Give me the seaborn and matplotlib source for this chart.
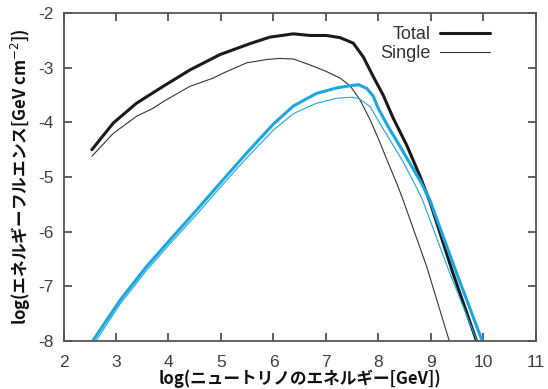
import numpy as np
import pandas as pd
import matplotlib
matplotlib.use("Agg")
import matplotlib.pyplot as plt
import seaborn as sns

# Data (log E [GeV], log fluence)
total_black_x = [2.54, 2.95, 3.39, 3.90, 4.41, 4.98, 5.55, 5.93, 6.38, 6.70, 7.01, 7.27, 7.52, 7.71, 7.90, 8.09, 8.28, 8.54, 8.79, 8.98, 9.42, 9.87]
total_black_y = [-4.50, -4.01, -3.65, -3.34, -3.04, -2.76, -2.56, -2.44, -2.38, -2.41, -2.41, -2.45, -2.55, -2.80, -3.16, -3.50, -3.92, -4.42, -4.98, -5.45, -6.76, -8.00]

single_black_x = [2.54, 2.95, 3.39, 3.71, 3.90, 4.41, 4.85, 5.04, 5.49, 5.87, 6.12, 6.38, 6.70, 7.01, 7.27, 7.46, 7.65, 7.84, 8.00, 8.16, 8.35, 8.47, 8.92, 9.35]
single_black_y = [-4.62, -4.20, -3.89, -3.74, -3.62, -3.34, -3.19, -3.10, -2.91, -2.85, -2.83, -2.84, -2.95, -3.07, -3.19, -3.33, -3.59, -3.95, -4.30, -4.68, -5.12, -5.42, -6.64, -8.00]

total_blue_x = [2.57, 3.08, 3.58, 4.03, 4.54, 5.04, 5.50, 6.00, 6.38, 6.82, 7.20, 7.46, 7.62, 7.78, 7.90, 8.00, 8.18, 8.40, 8.60, 8.80, 8.98, 9.49, 9.97]
total_blue_y = [-7.98, -7.25, -6.64, -6.15, -5.60, -5.05, -4.55, -4.03, -3.70, -3.47, -3.37, -3.33, -3.31, -3.38, -3.52, -3.75, -4.07, -4.42, -4.75, -5.08, -5.42, -6.76, -7.98]

single_blue_x = [2.63, 3.08, 3.58, 4.03, 4.54, 5.04, 5.50, 6.00, 6.38, 6.82, 7.20, 7.46, 7.62, 7.84, 8.06, 8.47, 8.73, 8.84, 9.36, 9.87]
single_blue_y = [-7.98, -7.32, -6.71, -6.22, -5.68, -5.13, -4.64, -4.14, -3.84, -3.65, -3.56, -3.54, -3.56, -3.71, -4.07, -4.72, -5.20, -5.42, -6.76, -7.98]

x_ticks = [2, 3, 4, 5, 6, 7, 8, 9, 10, 11]
y_ticks = [-2, -3, -4, -5, -6, -7, -8]

sns.set_style("ticks")
plt.rcParams['font.family'] = ['Liberation Sans', 'DejaVu Sans']

fig = plt.figure(figsize=(5.48, 3.89), dpi=100)
ax = fig.add_axes([0.1159, 0.1234, 0.862, 0.843])

black = "#1a1a1a"
blue = "#1ba6e0"

def draw(xs, ys, color, lw, label):
    df = pd.DataFrame({"x": xs, "y": ys})
    sns.lineplot(data=df, x="x", y="y", ax=ax, color=color, linewidth=lw,
                 label=label, sort=False, estimator=None)

draw(total_black_x, total_black_y, black, 2.2, "Total")
draw(single_black_x, single_black_y, "#333333", 0.8, "Single")
draw(total_blue_x, total_blue_y, blue, 2.2, "_nolegend_")
draw(single_blue_x, single_blue_y, blue, 0.8, "_nolegend_")

ax.set_xlim(2, 11)
ax.set_ylim(-8, -2)
ax.set_xticks(x_ticks)
ax.set_yticks(y_ticks)
ax.set_xticklabels([str(v) for v in x_ticks])
ax.set_yticklabels([str(v) for v in y_ticks])
ax.tick_params(direction="in", length=6, width=1.2, colors="#444444",
               labelcolor="#404040", labelsize=12.5, top=True, right=True)
ax.tick_params(axis="x", pad=10)
ax.tick_params(axis="y", pad=7)
for s in ax.spines.values():
    s.set_visible(True)
    s.set_color("#555555")
    s.set_linewidth(1.3)

jp = ['Noto Sans CJK JP', 'DejaVu Sans']
ax.set_xlabel("log(ニュートリノのエネルギー[GeV])", family=jp, fontweight="bold",
              fontsize=12, labelpad=0, color="#111111")
ax.set_ylabel("log(エネルギーフルエンス[GeV cm$^{-2}$])", family=jp, fontweight="bold",
              fontsize=12, labelpad=4, color="#111111")

leg = ax.legend(loc="upper right", bbox_to_anchor=(0.903, 0.96), frameon=False,
                markerfirst=False, fontsize=13, handlelength=2.8, borderaxespad=0,
                borderpad=0, labelspacing=0.1, handletextpad=0.5)
for t in leg.get_texts():
    t.set_color("#333333")

fig.savefig("out.png", dpi=100)
